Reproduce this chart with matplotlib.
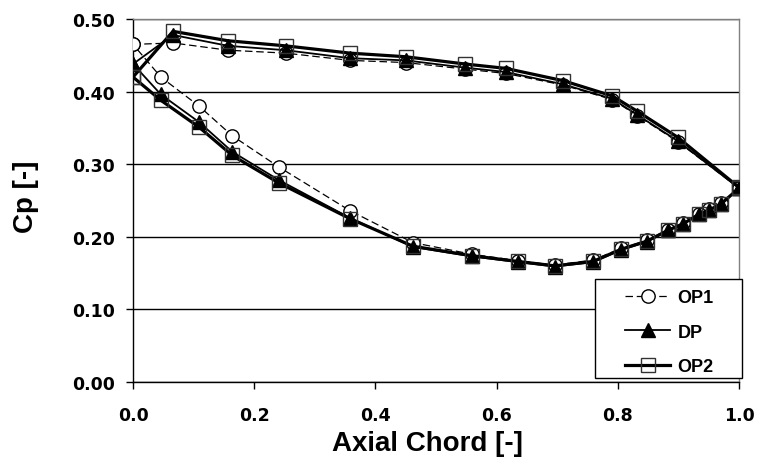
import matplotlib
matplotlib.use("Agg")
import matplotlib.pyplot as plt
from matplotlib.patches import Rectangle
from matplotlib.ticker import FormatStrFormatter, MultipleLocator

# chord positions: leading edge -> trailing edge along the upper branch,
# then trailing edge -> leading edge along the lower branch
x_upper = [0.0, 0.066, 0.157, 0.252, 0.358, 0.45, 0.548, 0.615, 0.71, 0.791, 0.832, 0.899, 1.0]
x_lower = [1.0, 0.970, 0.951, 0.934, 0.908, 0.883, 0.848, 0.806, 0.759, 0.696, 0.636, 0.559,
           0.462, 0.358, 0.241, 0.164, 0.109, 0.046, 0.0]

op1_upper = [0.465, 0.467, 0.457, 0.453, 0.443, 0.440, 0.431, 0.425, 0.409, 0.389, 0.367, 0.331, 0.267]
dp_upper = [0.438, 0.478, 0.463, 0.457, 0.446, 0.443, 0.433, 0.427, 0.410, 0.390, 0.368, 0.332, 0.267]
op2_upper = [0.420, 0.483, 0.470, 0.463, 0.453, 0.448, 0.438, 0.432, 0.415, 0.394, 0.373, 0.337, 0.268]

op1_lower = [0.267, 0.246, 0.238, 0.232, 0.219, 0.210, 0.195, 0.184, 0.168, 0.161, 0.167, 0.176,
             0.192, 0.236, 0.296, 0.339, 0.380, 0.420, 0.465]
dp_lower = [0.267, 0.245, 0.237, 0.231, 0.218, 0.209, 0.193, 0.182, 0.165, 0.159, 0.165, 0.173,
            0.186, 0.226, 0.278, 0.317, 0.358, 0.396, 0.438]
op2_lower = [0.267, 0.245, 0.237, 0.231, 0.218, 0.209, 0.194, 0.183, 0.166, 0.160, 0.166, 0.174,
             0.187, 0.225, 0.274, 0.312, 0.351, 0.388, 0.420]

labels = ["OP1", "DP", "OP2"]

x_all = x_upper + x_lower

fig = plt.figure(figsize=(7.57, 4.64), dpi=100)
ax = fig.add_axes([0.1757, 0.1746, 0.8005, 0.7823])

ax.plot(x_all, op1_upper + op1_lower, color="black", lw=0.9, ls=(0, (6, 3)),
        marker="o", ms=9.6, mfc="white", mec="black", mew=1.0, label=labels[0], zorder=3)
ax.plot(x_all, dp_upper + dp_lower, color="black", lw=1.3,
        marker="^", ms=10, mfc="black", mec="black", mew=1.0, label=labels[1], zorder=4)
ax.plot(x_all, op2_upper + op2_lower, color="black", lw=2.3,
        marker="s", ms=9.6, mfc="none", mec="#333333", mew=1.0, label=labels[2], zorder=5)

ax.set_xlim(0, 1.0)
ax.set_ylim(0, 0.5)
ax.xaxis.set_major_locator(MultipleLocator(0.2))
ax.yaxis.set_major_locator(MultipleLocator(0.1))
ax.xaxis.set_major_formatter(FormatStrFormatter("%.1f"))
ax.yaxis.set_major_formatter(FormatStrFormatter("%.2f"))

ax.yaxis.grid(True, color="black", lw=1.0)
ax.set_axisbelow(True)

for s in ["left", "bottom"]:
    ax.spines[s].set_color("black")
    ax.spines[s].set_linewidth(1.0)
for s in ["top", "right"]:
    ax.spines[s].set_color("#808080")
    ax.spines[s].set_linewidth(1.0)

ax.tick_params(axis="both", direction="out", length=5, width=1.0, color="black")
ax.tick_params(axis="y", pad=8)
ax.tick_params(axis="x", pad=12)
for t in ax.get_xticklabels() + ax.get_yticklabels():
    t.set_fontfamily("DejaVu Sans")
    t.set_fontweight("bold")
    t.set_fontsize(12.5)

ax.set_xlabel("Axial Chord [-]", fontfamily="Liberation Sans", fontweight="bold",
              fontsize=20, va="center")
ax.set_ylabel("Cp [-]", fontfamily="Liberation Sans", fontweight="bold",
              fontsize=20, va="center")
ax.xaxis.set_label_coords(0.486, -0.168)
ax.yaxis.set_label_coords(-0.177, 0.512)

# legend box drawn separately (wide side padding like the original)
box = Rectangle((0.762, 0.011), 0.243, 0.273, transform=ax.transAxes, facecolor="white",
                edgecolor="black", lw=1.0, clip_on=False, zorder=9)
ax.add_patch(box)
leg = ax.legend(loc="upper left", bbox_to_anchor=(0.812, 0.256), frameon=False,
                handlelength=2.5, handletextpad=0.4, labelspacing=0.98,
                borderpad=0, borderaxespad=0,
                prop={"family": "Liberation Sans", "weight": "bold", "size": 13})
leg.set_zorder(10)

fig.savefig("out.png", dpi=100)
